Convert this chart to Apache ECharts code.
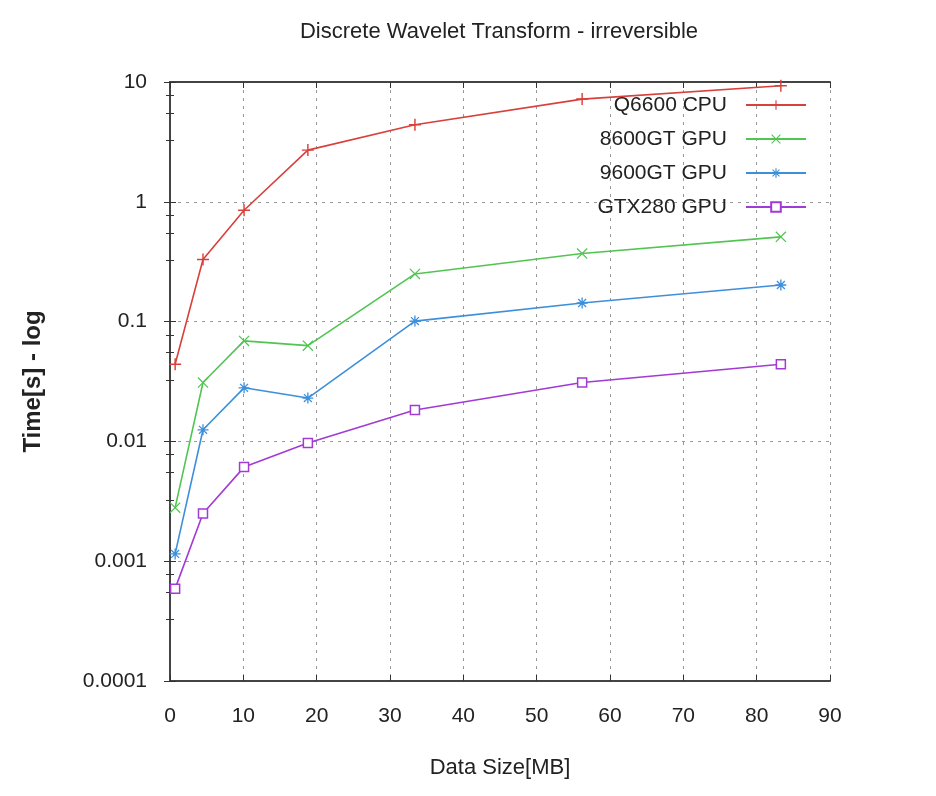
<!DOCTYPE html>
<html>
<head>
<meta charset="utf-8">
<script src="https://cdn.jsdelivr.net/npm/echarts@6/dist/echarts.min.js"></script>
<style>
  html, body { margin: 0; padding: 0; background: #fff; }
  #chart { width: 936px; height: 796px; }
</style>
</head>
<body>
<div id="chart"></div>
<script>
// data size in MB
const sizes = [0.7, 4.5, 10.1, 18.8, 33.4, 56.2, 83.3];
// time in seconds
const cpuQ6600 = [0.044, 0.33, 0.85, 2.7, 4.4, 7.2, 9.3];
const gpu8600 = [0.0028, 0.031, 0.069, 0.063, 0.25, 0.37, 0.51];
const gpu9600 = [0.00115, 0.0125, 0.028, 0.023, 0.101, 0.143, 0.202];
const gpuGTX280 = [0.00059, 0.0025, 0.0061, 0.0097, 0.0183, 0.031, 0.044];
const yTicks = [0.0001, 0.001, 0.01, 0.1, 1, 10];

const font = "'Liberation Sans', Arial, sans-serif";

const plus = 'path://M0,4.4H10V5.6H0Z M4.4,0H5.6V10H4.4Z';
const cross = 'path://M0,0.8L0.8,0L10,9.2L9.2,10Z M9.2,0L10,0.8L0.8,10L0,9.2Z';
const star = 'path://M0,4.4H10V5.6H0Z M4.4,0H5.6V10H4.4Z M1,1.8L1.8,1L9,8.2L8.2,9Z M8.2,1L9,1.8L1.8,9L1,8.2Z';

const pairs = arr => arr.map((v, i) => [sizes[i], v]);

function mkSeries(name, data, color, symbol, size, hollow) {
  return {
    name: name,
    type: 'line',
    data: pairs(data),
    symbol: symbol,
    symbolSize: size,
    showAllSymbol: true,
    lineStyle: { color: color, width: 1.6 },
    itemStyle: hollow
      ? { color: '#fff', borderColor: color, borderWidth: 1.5 }
      : { color: color },
    emphasis: { disabled: true }
  };
}

const chart = echarts.init(document.getElementById('chart'));

chart.setOption({
  backgroundColor: '#fff',
  animation: false,
  title: {
    text: 'Discrete Wavelet Transform - irreversible',
    left: 494,
    textAlign: 'center',
    top: 16,
    textStyle: { fontFamily: font, fontSize: 22, fontWeight: 'normal', color: '#222' }
  },
  legend: {
    orient: 'vertical',
    right: 124,
    top: 88,
    align: 'right',
    itemWidth: 60,
    itemHeight: 12,
    itemGap: 10,
    textStyle: { fontFamily: font, fontSize: 21, lineHeight: 24, color: '#222', padding: [0, 14, 0, 0] },
    data: ['Q6600 CPU', '8600GT GPU', '9600GT GPU', 'GTX280 GPU']
  },
  grid: { left: 170, right: 106, top: 82, bottom: 115 },
  xAxis: [{
    type: 'value',
    min: 0,
    max: 90,
    interval: 10,
    name: 'Data Size[MB]',
    nameLocation: 'middle',
    nameGap: 76,
    nameTextStyle: { fontFamily: font, fontSize: 22, color: '#222' },
    axisLine: { lineStyle: { color: '#444', width: 2 } },
    axisTick: { inside: true, length: 6, lineStyle: { color: '#333' } },
    axisLabel: { fontFamily: font, fontSize: 21, color: '#222', margin: 25 },
    splitLine: { show: true, lineStyle: { color: '#999', type: [3, 5] } }
  }, {
    type: 'value',
    position: 'top',
    min: 0,
    max: 90,
    interval: 10,
    axisLine: { lineStyle: { color: '#444', width: 2 } },
    axisTick: { inside: true, length: 6, lineStyle: { color: '#333' } },
    axisLabel: { show: false },
    splitLine: { show: false }
  }],
  yAxis: [{
    type: 'log',
    logBase: 10,
    min: 0.0001,
    max: 10,
    name: 'Time[s] - log',
    nameLocation: 'middle',
    nameGap: 125,
    nameTextStyle: { fontFamily: font, fontSize: 24, fontWeight: 'bold', color: '#222' },
    axisLine: { show: true, lineStyle: { color: '#444', width: 2 } },
    axisTick: { show: true, inside: true, length: 6, lineStyle: { color: '#333' } },
    minorTick: { show: true, splitNumber: 4, length: 4, lineStyle: { color: '#333' } },
    axisLabel: {
      fontFamily: font, fontSize: 21, color: '#222', margin: 23,
      formatter: v => {
        const t = yTicks.find(k => Math.abs(k - v) / k < 1e-6);
        return t === undefined ? '' : String(t);
      }
    },
    splitLine: { show: true, lineStyle: { color: '#999', type: [3, 5] } }
  }, {
    type: 'log',
    logBase: 10,
    position: 'right',
    min: 0.0001,
    max: 10,
    axisLine: { show: true, lineStyle: { color: '#444', width: 2 } },
    axisTick: { show: true, inside: true, length: 6, lineStyle: { color: '#333' } },
    minorTick: { show: true, splitNumber: 4, length: 4, lineStyle: { color: '#333' } },
    axisLabel: { show: false },
    splitLine: { show: false }
  }],
  series: [
    mkSeries('Q6600 CPU', cpuQ6600, '#d8403c', plus, 12, false),
    mkSeries('8600GT GPU', gpu8600, '#52c452', cross, 11, false),
    mkSeries('9600GT GPU', gpu9600, '#3d8fdb', star, 11, false),
    mkSeries('GTX280 GPU', gpuGTX280, '#a23ad6', 'rect', 9, true)
  ]
});
</script>
</body>
</html>
